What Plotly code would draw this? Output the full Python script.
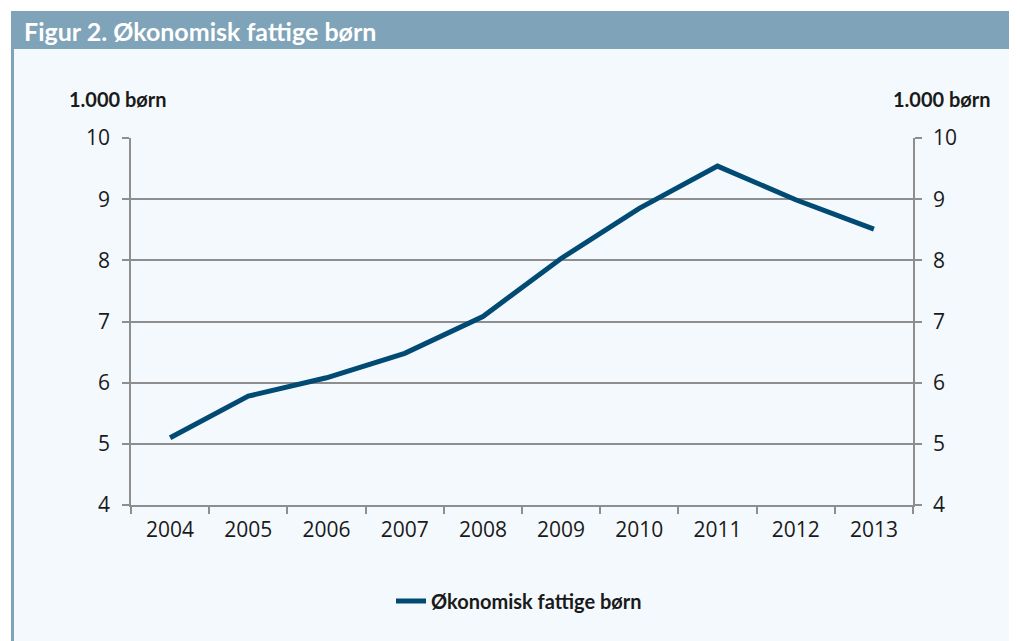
import plotly.graph_objects as go

years = ["2004", "2005", "2006", "2007", "2008", "2009", "2010", "2011", "2012", "2013"]
values = [5.1, 5.78, 6.08, 6.48, 7.08, 8.03, 8.85, 9.54, 8.99, 8.51]
series_name = "Økonomisk fattige børn"
title_text = "Figur 2. Økonomisk fattige børn"
unit_label = "1.000 børn"

OFF = 8  # page body margin
W, H = 1017 - OFF, 641 - OFF
L, R, T, B = 131 - OFF, 913 - OFF, 138 - OFF, 505 - OFF
pw, ph = R - L, B - T

def px(x):
    return (x - OFF - L) / pw

def py(y):
    return (B - (y - OFF)) / ph

font_family = "Lato, Open Sans, sans-serif"
tick_family = "Open Sans, sans-serif"
grid_col = "#8E8E8E"
line_col = "#004A73"
band_col = "#7FA3B8"

fig = go.Figure()
fig.add_trace(go.Scatter(
    x=years, y=values, mode="lines", name=series_name,
    line=dict(color=line_col, width=5), showlegend=True,
))
fig.add_trace(go.Scatter(x=years, y=values, yaxis="y2", mode="lines",
                         line=dict(width=0), showlegend=False, hoverinfo="skip", opacity=0))

axis_common = dict(
    range=[4, 10], dtick=1, tick0=4,
    showline=True, linecolor=grid_col, linewidth=1.5,
    ticks="outside", ticklen=7, tickcolor=grid_col, tickwidth=1.5,
    tickfont=dict(family=tick_family, size=21, color="#1a1a1a"),
    zeroline=False,
)

fig.update_layout(
    width=W, height=H,
    margin=dict(l=L, r=W - R, t=T, b=H - B),
    paper_bgcolor="white",
    plot_bgcolor="#F4F9FD",
    font=dict(family=font_family),
    xaxis=dict(
        type="category", tickson="boundaries",
        showline=True, linecolor=grid_col, linewidth=1.5,
        ticks="outside", ticklen=7, tickcolor=grid_col, tickwidth=1.5,
        showgrid=False, ticklabelstandoff=5,
        tickfont=dict(family=tick_family, size=21, color="#1a1a1a"),
        range=[-0.5, 9.5],
    ),
    yaxis=dict(**axis_common, showgrid=True, gridcolor=grid_col, gridwidth=1.5,
               ticklabelstandoff=8),
    yaxis2=dict(**axis_common, overlaying="y", side="right", showgrid=False,
                ticklabelstandoff=7),
    legend=dict(
        orientation="h", x=px(519), xanchor="center", y=py(601), yanchor="middle",
        font=dict(family=font_family, size=20, color="#1a1a1a", weight="bold"),
        bgcolor="rgba(0,0,0,0)",
    ),
    shapes=[
        dict(type="rect", xref="paper", yref="paper", layer="below",
             x0=px(11), x1=px(1017), y0=py(641), y1=py(49),
             fillcolor="#F4F9FD", line=dict(width=0)),
        dict(type="rect", xref="paper", yref="paper", layer="below",
             x0=px(11), x1=px(1017), y0=py(49), y1=py(11),
             fillcolor=band_col, line=dict(width=0)),
        dict(type="rect", xref="paper", yref="paper", layer="below",
             x0=px(11), x1=px(14), y0=py(641), y1=py(49),
             fillcolor=band_col, line=dict(width=0)),
    ],
    annotations=[
        dict(text="<b>" + title_text + "</b>", xref="paper", yref="paper",
             x=px(22), y=py(31), xanchor="left", yanchor="middle", showarrow=False,
             font=dict(family=font_family, size=25, color="white")),
        dict(text="<b>" + unit_label + "</b>", xref="paper", yref="paper",
             x=px(67), y=py(99), xanchor="left", yanchor="middle", showarrow=False,
             font=dict(family=font_family, size=20, color="#1a1a1a")),
        dict(text="<b>" + unit_label + "</b>", xref="paper", yref="paper",
             x=px(993), y=py(99), xanchor="right", yanchor="middle", showarrow=False,
             font=dict(family=font_family, size=20, color="#1a1a1a")),
    ],
)

fig.write_html("out.html")
